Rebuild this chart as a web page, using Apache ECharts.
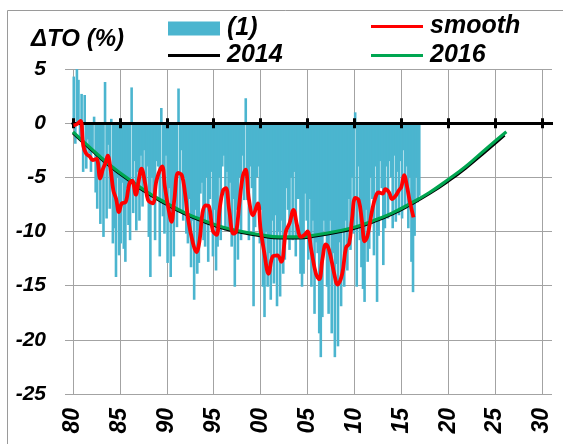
<!DOCTYPE html>
<html>
<head>
<meta charset="utf-8">
<script src="https://cdn.jsdelivr.net/npm/echarts@6/dist/echarts.min.js"></script>
<style>html,body{margin:0;padding:0;background:#fff}#c{width:563px;height:444px}</style>
</head>
<body>
<div id="c"></div>
<script>
// ---- data ----
const xTickLabels = ['80','85','90','95','00','05','10','15','20','25','30'];
const yTickValues = [-25,-20,-15,-10,-5,0,5];

// monthly-ish ozone deviation bars (6 values per year, 1980 .. 2016)
const barStartYear = 1980;
const barsPerYear = 6;
const ozoneBars = [
  4.3, -1.9, 5.3, 4.0, -1.5, 2.7,        // 1980
  -4.5, 2.6, -4.2, -1.5, -2.8, -4.5,     // 1981
  -2.5, 0.6, -6.4, -7.9, -3.0, -9.3,     // 1982
  -3.0, -10.5, 3.8, -8.8, -2.0, -7.9,    // 1983
  0.4, -11.1, -9.7, -14.2, -5.0, -12.2,  // 1984
  -11.1, -5.5, -11.6, -12.8, -6.0, -9.4, // 1985
  -10.8, 3.3, -8.3, -3.5, -9.9, -4.5,    // 1986
  -9.0, -3.0, -7.7, -2.5, -6.0, -4.0,    // 1987
  -10.5, -14.2, -5.0, -6.5, -10.8, -3.5, // 1988
  -4.0, -12.3, 1.4, -8.6, -10.2, -3.0,   // 1989
  -12.9, -6.0, -14.2, -8.0, -12.3, -5.0, // 1990
  -9.6, 3.2, -8.0, -2.5, -9.0, -5.0,     // 1991
  -10.2, -11.1, -7.0, -13.3, -9.0, -16.3,// 1992
  -8.0, -13.9, -12.9, -6.5, -5.5, -10.8, // 1993
  -11.4, -5.0, -12.8, -7.0, -4.5, -12.3, // 1994
  -8.0, -13.6, -11.4, -5.0, -10.8, -4.0, // 1995
  -3.0, -9.9, -4.5, -9.6, -5.5, -11.4,   // 1996
  -7.0, -15.1, -8.0, -12.6, -5.0, -10.8, // 1997
  -3.0, -7.1, 2.3, -7.1, -10.8, -4.0,    // 1998
  -6.0, -16.9, -9.6, -5.0, -4.0, -11.1,  // 1999
  -8.0, -15.1, -17.9, -10.0, -15.1, -12.0,// 2000
  -16.3, -9.0, -14.8, -8.5, -16.9, -10.0,// 2001
  -16.0, -9.0, -13.9, -12.6, -6.0, -8.0, // 2002
  -11.7, -5.0, -10.8, -4.5, -12.3, -7.0, // 2003
  -7.0, -13.9, -15.1, -13.9, -6.5, -9.0, // 2004
  -12.6, -7.0, -15.1, -9.0, -17.6, -11.0,// 2005
  -12.0, -19.4, -21.6, -17.9, -9.0, -10.0,// 2006
  -15.1, -17.6, -9.0, -19.4, -12.0, -21.6,// 2007
  -13.0, -20.6, -11.0, -16.9, -10.0, -15.1,// 2008
  -9.0, -13.6, -7.0, -11.7, -5.0, -10.2, // 2009
  1.0, -15.1, -4.0, -10.8, -13.3, -15.3, // 2010
  -16.5, -8.0, -12.8, -11.6, -5.0, -7.0, // 2011
  -12.2, -4.0, -16.5, -10.4, -3.5, -6.0, // 2012
  -13.1, -9.7, -4.0, -8.8, -3.5, -5.0,   // 2013
  -9.7, -3.0, -9.1, -4.5, -8.5, -3.5,    // 2014
  -8.8, -2.5, -7.9, -4.0, -9.7, -5.0,    // 2015
  -12.8, -15.6, -10.4, -5.0, -7.3, -6.7  // 2016
];

// red smoothed curve
const smoothYears = [1980.05,1980.4,1980.8,1981.1,1981.4,1981.8,1982.1,1982.5,1982.9,1983.2,1983.5,1983.7,
  1984.0,1984.3,1984.6,1984.9,1985.2,1985.6,1986.0,1986.3,1986.7,1987.0,1987.3,1987.7,1988.0,1988.5,1988.9,
  1989.5,1989.8,1990.2,1990.5,1990.8,1991.2,1991.6,1991.95,1992.3,1992.8,1993.15,1993.5,1993.8,1994.15,1994.5,
  1994.9,1995.3,1995.65,1996.0,1996.3,1996.65,1997.1,1997.4,1997.7,1998.1,1998.4,1998.75,1999.2,1999.7,2000.0,
  2000.4,2000.85,2001.3,2001.8,2002.2,2002.7,2003.1,2003.5,2003.9,2004.3,2004.7,2005.0,2005.4,2005.9,2006.25,
  2006.6,2006.95,2007.3,2007.85,2008.2,2008.7,2009.1,2009.45,2009.75,2010.1,2010.45,2010.8,2011.1,2011.4,2011.9,
  2012.3,2012.6,2013.0,2013.3,2013.7,2014.0,2014.4,2014.75,2015.0,2015.3,2015.6,2015.9,2016.3];
const smoothValues = [-0.2,-0.1,0.2,-2.1,-2.8,-3.1,-3.4,-3.3,-5.1,-4.2,-3.6,-3.0,
  -4.2,-6.2,-7.0,-8.2,-7.4,-7.3,-5.6,-5.3,-6.6,-5.3,-4.2,-5.6,-7.1,-7.4,-5.3,
  -4.0,-5.9,-8.0,-9.1,-7.1,-4.6,-4.8,-6.5,-9.0,-11.1,-11.9,-10.8,-8.3,-7.6,-7.7,
  -9.9,-10.3,-7.8,-6.2,-6.0,-8.0,-10.2,-10.0,-7.7,-4.9,-4.3,-7.0,-8.5,-7.4,-9.8,
  -12.0,-13.9,-12.3,-12.2,-12.8,-10.0,-9.2,-8.0,-9.5,-10.5,-10.3,-10.0,-11.7,-13.9,-14.4,
  -12.5,-11.2,-11.7,-13.9,-14.9,-13.9,-11.5,-11.1,-8.8,-6.9,-7.1,-9.0,-10.9,-10.4,-8.0,
  -6.7,-6.4,-6.5,-6.1,-6.4,-7.0,-6.7,-6.2,-5.9,-4.8,-5.8,-7.2,-8.7];

// fitted curves
const fitYears2016 = [1980,1982,1984,1986,1988,1990,1992,1994,1996,1998,2000,2002,2004,2006,2008,2010,2012,2014,2016,2018,2020,2022,2024,2026.2];
const fit2016 = [-0.8,-2.4,-3.9,-5.2,-6.4,-7.4,-8.3,-9.0,-9.6,-10.0,-10.3,-10.5,-10.5,-10.3,-10.0,-9.6,-9.0,-8.3,-7.4,-6.4,-5.2,-3.9,-2.4,-0.8];
const fitYears2014 = [1980,1982,1984,1986,1988,1990,1992,1994,1996,1998,2000,2002,2004,2006,2008,2010,2012,2014,2016,2018,2020,2022,2024,2026];
const fit2014 = [-0.9,-2.5,-4.0,-5.3,-6.5,-7.5,-8.4,-9.1,-9.7,-10.1,-10.4,-10.6,-10.6,-10.4,-10.1,-9.7,-9.1,-8.4,-7.5,-6.5,-5.35,-4.05,-2.6,-1.1];

// ---- chart ----
const FONT = '"Liberation Sans", Arial, sans-serif';
const boldItalic = { fontFamily: FONT, fontWeight: 'bold', fontStyle: 'italic', color: '#000' };
const GRID_GRAY = '#a3a3a3';

const barData = ozoneBars.map((v, i) => [barStartYear + (i + 0.5) / barsPerYear, v]);
const smoothData = smoothYears.map((x, i) => [x, smoothValues[i]]);
const data2016 = fitYears2016.map((x, i) => [x, fit2016[i]]);
const data2014 = fitYears2014.map((x, i) => [x, fit2014[i]]);

const xBase = { type: 'value', min: 1980, max: 2030, interval: 5, position: 'bottom' };
const yBase = { type: 'value', min: yTickValues[0], max: yTickValues[yTickValues.length - 1], interval: 5 };

function legendAt(name, left, top, icon, w, h, color) {
  return {
    data: [{ name: name, icon: icon, itemStyle: { color: color } }],
    left: left, top: top, itemWidth: w, itemHeight: h, itemGap: 0,
    selectedMode: false, padding: 0,
    textStyle: Object.assign({ fontSize: 25, padding: [0, 0, 0, 2] }, boldItalic)
  };
}

const chart = echarts.init(document.getElementById('c'), null, { renderer: 'canvas' });
chart.setOption({
  animation: false,
  backgroundColor: '#fff',
  title: {
    text: 'ΔTO (%)', left: 26, top: 22,
    textStyle: Object.assign({ fontSize: 24 }, boldItalic)
  },
  legend: [
    legendAt('(1)', 168, 16, 'rect', 52, 14, '#4bb5cf'),
    legendAt('smooth', 371, 14, 'rect', 52, 3, '#ff0000'),
    legendAt('2014', 168, 43, 'rect', 52, 3, '#000000'),
    legendAt('2016', 371, 43, 'rect', 52, 3, '#00a651')
  ],
  graphic: [{
    type: 'rect', silent: true,
    shape: { x: 7.5, y: 10.5, width: 570, height: 450 },
    style: { fill: 'none', stroke: '#9a9a9a', lineWidth: 1 }
  }],
  grid: { left: 73, right: 21, top: 69, bottom: 50 },
  xAxis: [
    Object.assign({}, xBase, {
      axisLine: { show: false, onZero: false },
      axisTick: { show: false },
      splitLine: { show: true, lineStyle: { color: GRID_GRAY, width: 1 } },
      axisLabel: Object.assign({
        rotate: 90, fontSize: 23, margin: 14,
        formatter: v => xTickLabels[Math.round((v - 1980) / 5)]
      }, boldItalic)
    }),
    Object.assign({}, xBase, {
      z: 5,
      axisLine: { show: true, onZero: true, onZeroAxisIndex: 0, lineStyle: { color: '#000', width: 3 } },
      axisTick: { show: true, length: 5, lineStyle: { color: '#000', width: 3 } },
      splitLine: { show: false }, axisLabel: { show: false }
    }),
    Object.assign({}, xBase, {
      z: 5,
      axisLine: { show: true, onZero: true, onZeroAxisIndex: 0, lineStyle: { color: '#000', width: 3 } },
      axisTick: { show: true, inside: true, length: 5, lineStyle: { color: '#000', width: 3 } },
      splitLine: { show: false }, axisLabel: { show: false }
    })
  ],
  yAxis: [
    Object.assign({}, yBase, {
      position: 'left',
      axisLine: { show: false },
      axisTick: { show: true, length: 8, lineStyle: { color: GRID_GRAY } },
      splitLine: { show: true, lineStyle: { color: GRID_GRAY, width: 1 } },
      axisLabel: Object.assign({ fontSize: 21, margin: 27 }, boldItalic)
    }),
    Object.assign({}, yBase, {
      position: 'right',
      axisLine: { show: false },
      axisTick: { show: true, length: 10, lineStyle: { color: GRID_GRAY } },
      splitLine: { show: false }, axisLabel: { show: false }
    }),
    Object.assign({}, yBase, {
      position: 'right', z: 5,
      axisLine: { show: false },
      axisTick: { show: true, length: 11, customValues: [0], lineStyle: { color: '#000', width: 3 } },
      splitLine: { show: false }, axisLabel: { show: false }
    })
  ],
  series: [
    {
      name: '(1)', type: 'bar', xAxisIndex: 0, yAxisIndex: 0, z: 2,
      data: barData, barWidth: 2.6,
      itemStyle: { color: '#4bb5cf' }
    },
    {
      name: '2014', type: 'line', xAxisIndex: 0, yAxisIndex: 0, z: 6,
      data: data2014, smooth: true, showSymbol: false, symbol: 'none',
      lineStyle: { color: '#000', width: 3 }, itemStyle: { color: '#000' }
    },
    {
      name: '2016', type: 'line', xAxisIndex: 0, yAxisIndex: 0, z: 7,
      data: data2016, smooth: true, showSymbol: false, symbol: 'none',
      lineStyle: { color: '#00a651', width: 3.2 }, itemStyle: { color: '#00a651' }
    },
    {
      name: 'smooth', type: 'line', xAxisIndex: 0, yAxisIndex: 0, z: 8,
      data: smoothData, smooth: 0.4, showSymbol: false, symbol: 'none',
      lineStyle: { color: '#ff0000', width: 3.8 }, itemStyle: { color: '#ff0000' }
    }
  ]
});
</script>
</body>
</html>
